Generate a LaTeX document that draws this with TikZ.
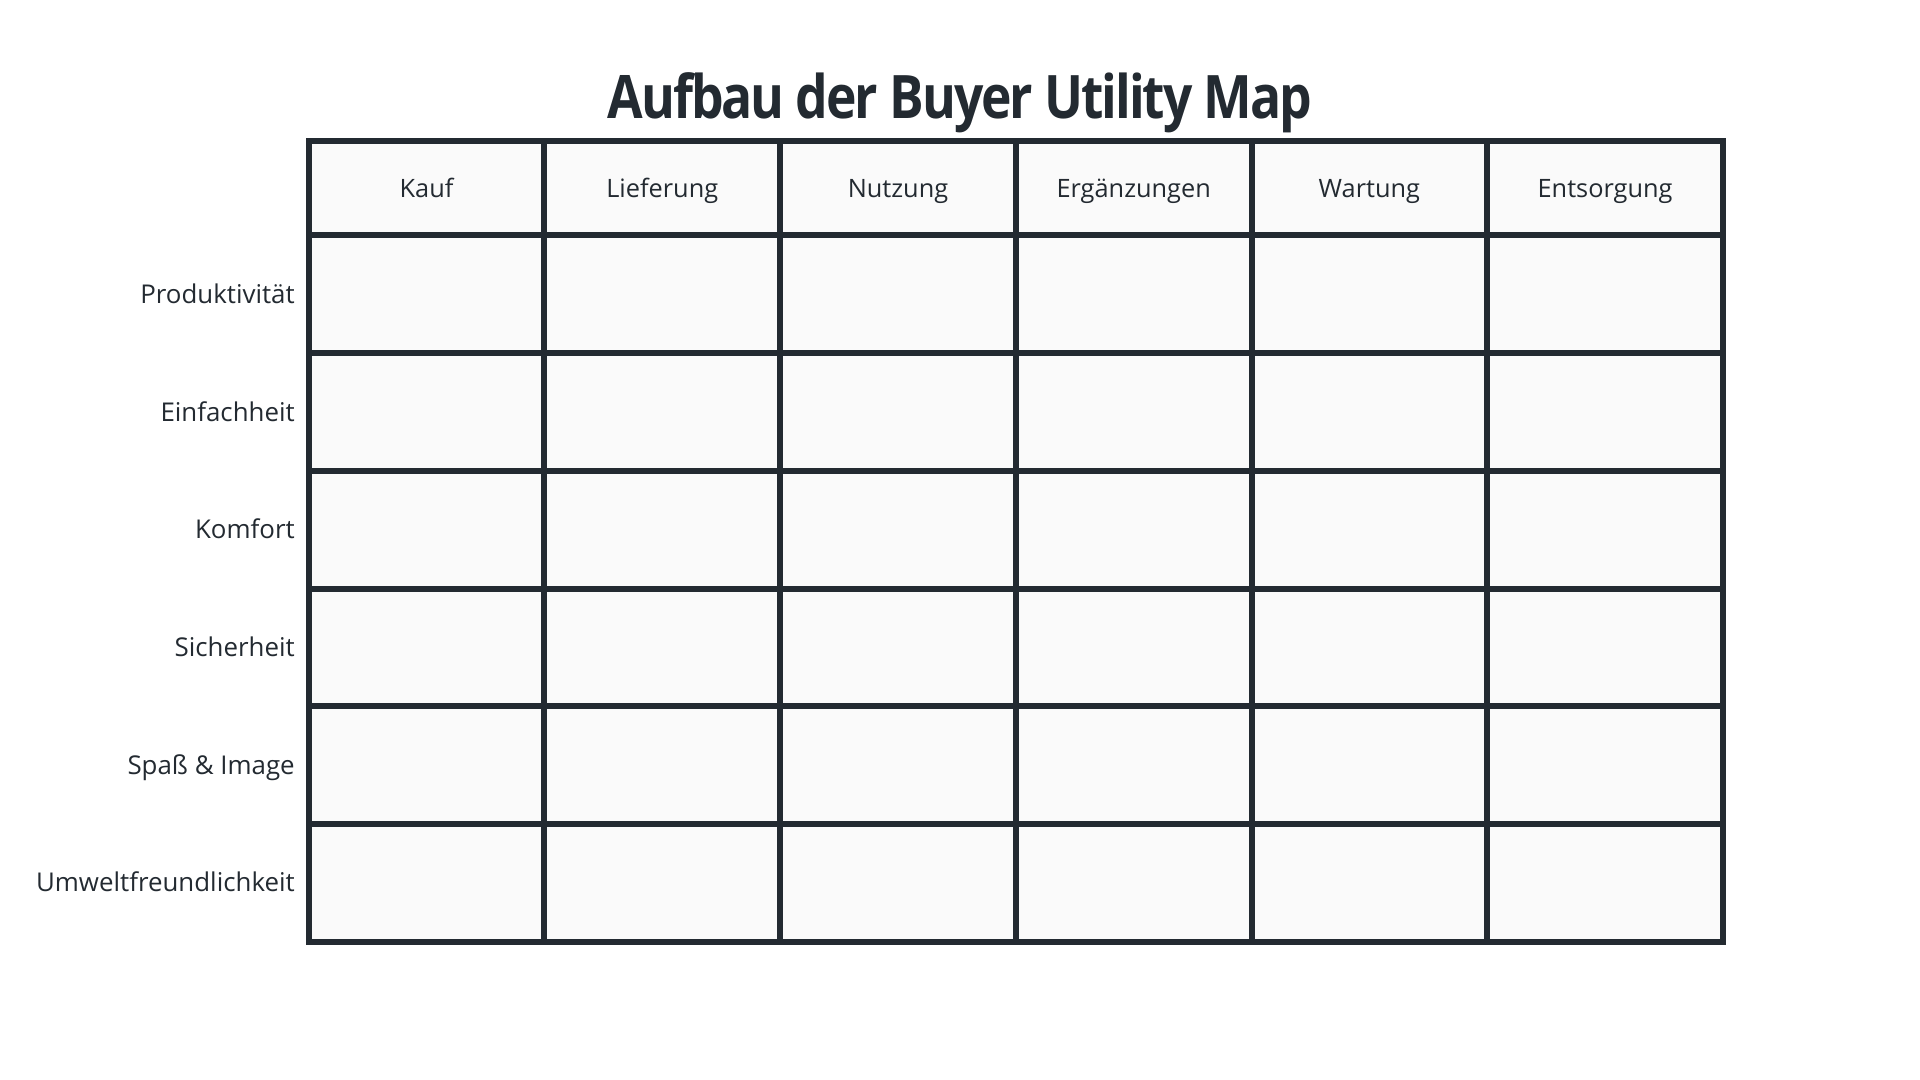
\documentclass[tikz,border=0pt]{standalone}
\usepackage{fontspec}
\setmainfont{Open Sans}
\usepackage{xcolor}
\usepackage{tikz}
\usetikzlibrary{positioning}
\definecolor{inkgray}{HTML}{232A31}
\definecolor{cellgray}{HTML}{FAFAFA}

\begin{document}
\begin{tikzpicture}[x=0.75pt,y=0.75pt,yscale=-1,xscale=1,
  cell/.style={draw=inkgray,fill=cellgray,line width=4.5pt,minimum width=176.8pt,minimum height=88.3pt,inner sep=0pt,outer sep=0pt,anchor=north west},
  headcell/.style={cell,minimum height=70.9pt,text=inkgray,font=\fontsize{19}{23}\selectfont,text height=13.6pt,text depth=0pt},
  rowlabel/.style={anchor=base east,inner sep=0pt,text=inkgray,font=\fontsize{19.4}{23}\selectfont}]
  \useasboundingbox (0,0) rectangle (1920,1080);

    % Title
    \node[text=inkgray,anchor=base] (title) at (960,119) {\scalebox{0.86}[1]{\fontsize{45}{54}\selectfont\bfseries\addfontfeature{LetterSpace=-4}Aufbau der Buyer Utility Map}};

    % Header row
    \foreach \phase [count=\c] in {Kauf,Lieferung,Nutzung,Ergänzungen,Wartung,Entsorgung}
      \node[headcell] (h\c) at ({308.7+(\c-1)*235.7},141) {\phase};

    % Utility rows
    \foreach \lever [count=\r] in {Produktivität,Einfachheit,Komfort,Sicherheit,Spaß \& Image,Umweltfreundlichkeit}{
      \foreach \c in {1,...,6}
        \node[cell] (c\r\c) at ({308.7+(\c-1)*235.7},{235.5+(\r-1)*117.7}) {};
      % Text Node
      \node[rowlabel] (l\r) at (295,{235.5+(\r-0.5)*117.7+9}) {\lever};
    }

  \end{tikzpicture}
\end{document}
